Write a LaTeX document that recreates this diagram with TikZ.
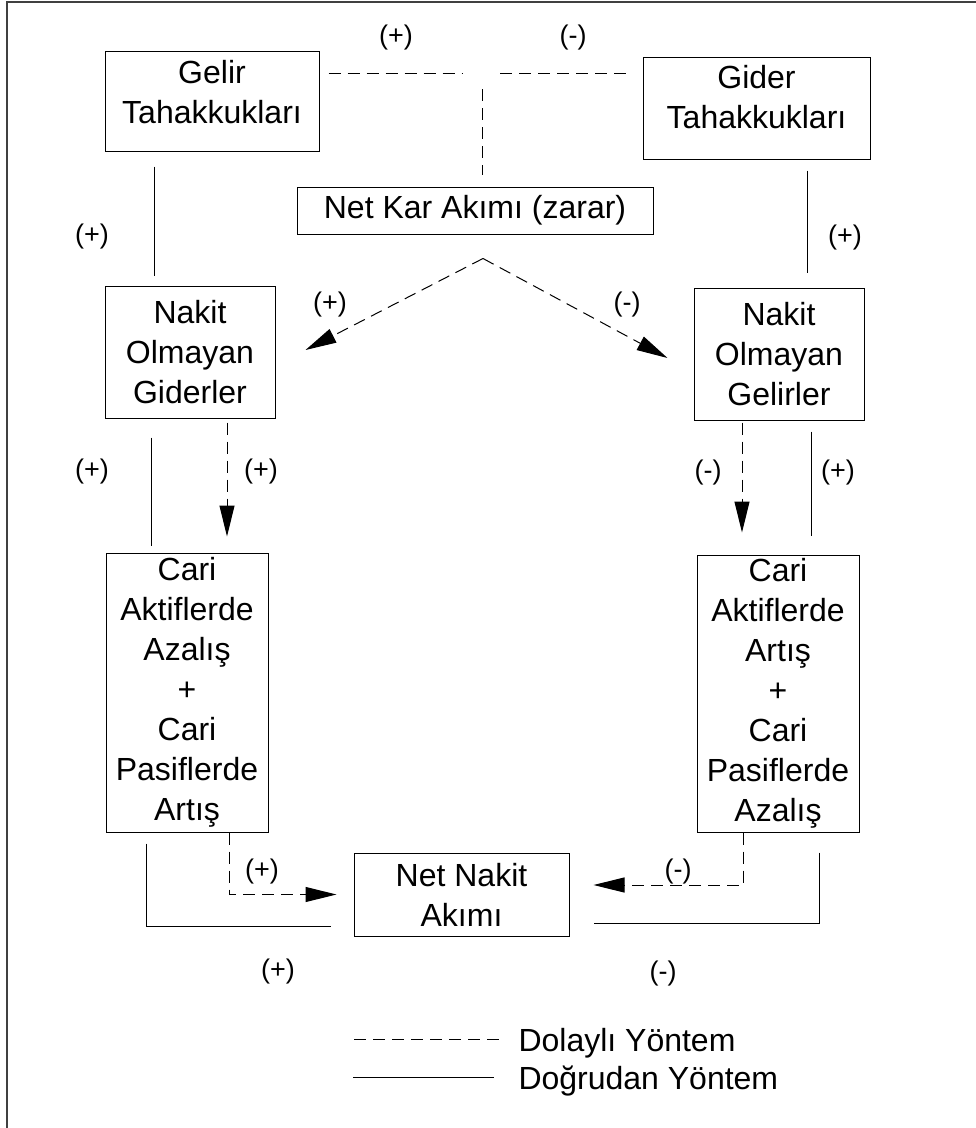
\documentclass[tikz,border=0pt]{standalone}
\usepackage{fontspec}
\setmainfont{Liberation Sans}
\usetikzlibrary{arrows.meta}
\begin{document}
\begin{tikzpicture}[x=1pt,y=-1pt,line width=1pt,
 kbox/.style={draw,inner sep=0pt,align=center,font=\fontsize{32}{40}\selectfont},
 klab/.style={inner sep=0pt,font=\fontsize{27}{30}\selectfont},
 kdash/.style={dash pattern=on 12pt off 7pt},
 ktip/.style={-{Triangle[length=31pt,width=15pt]}}]
\useasboundingbox (0,0) rectangle (976,1128);
\draw[line width=1.5pt,black!75](7,1128)--(7,2)--(976,2);
\node[kbox,minimum width=214,minimum height=100,text depth=18.5pt](gel) at (212,101){Gelir\\Tahakkukları};
\node[kbox,minimum width=227,minimum height=102,text depth=22.5pt](gid) at (756.5,108){Gider\\Tahakkukları};
\node[kbox,minimum width=356,minimum height=47](kar) at (475,210.5){Net Kar Akımı (zarar)};
\node[kbox,minimum width=170,minimum height=132](nog) at (190,352){Nakit\\Olmayan\\Giderler};
\node[kbox,minimum width=170,minimum height=132](nol) at (779,354){Nakit\\Olmayan\\Gelirler};
\node[kbox,minimum width=162,minimum height=279](cg) at (187,692.5){Cari\\Aktiflerde\\Azalış\\+\\Cari\\Pasiflerde\\Artış};
\node[kbox,minimum width=162,minimum height=277](cl) at (778,693.5){Cari\\Aktiflerde\\Artış\\+\\Cari\\Pasiflerde\\Azalış};
\node[kbox,minimum width=215,minimum height=83](nna) at (461.5,894.5){Net Nakit\\Akımı};
\foreach \kx/\ky/\kt [count=\ki] in {396/38/{(+)},573/38/{(-)},92/237/{(+)},845/238/{(+)},330/305/{(+)},627/305/{(-)},92/472/{(+)},261/472/{(+)},708/473/{(-)},838/473/{(+)},262/872/{(+)},678/872/{(-)},278/972/{(+)},663/973/{(-)}}{\node[klab](s\ki) at (\kx,\ky){\kt};}
\foreach \kc/\kx in {1/154,2/807,3/151,4/227,5/742,6/811,7/146,8/229,9/743,10/819}{\coordinate(v\kc) at (\kx,0);}
\coordinate(tj) at (482,73);
\coordinate(apex) at ([xshift=8,yshift=-24]kar.south);
\draw[kdash,shorten <=9,shorten >=20](gel.east |- tj)--(tj);
\draw[kdash,shorten <=17,shorten >=17](gid.west |- tj)--(tj);
\draw[kdash,shorten <=16,shorten >=12](tj)--(tj |- kar.north);
\draw[kdash,ktip](apex)--([xshift=30,yshift=2]nog.east);
\draw[kdash,ktip](apex)--([xshift=-26,yshift=-4]nol.west);
\draw[shorten <=15,shorten >=10](gel.south -| v1)--(nog.north -| v1);
\draw[shorten <=11,shorten >=15](gid.south -| v2)--(nol.north -| v2);
\draw[shorten <=19,shorten >=7](nog.south -| v3)--(cg.north -| v3);
\draw[kdash,ktip,shorten <=4,shorten >=16](nog.south -| v4)--(cg.north -| v4);
\draw[kdash,ktip,shorten <=2,shorten >=22](nol.south -| v5)--(cl.north -| v5);
\draw[shorten <=11,shorten >=19](nol.south -| v6)--(cl.north -| v6);
\draw[shorten <=11,shorten >=23](cg.south -| v7)|-([yshift=-31.5]nna.west);
\draw[kdash,ktip,shorten >=17](cg.south -| v8)|-(nna.west);
\draw[kdash,ktip,shorten >=24](cl.south -| v9)|-([yshift=9.5]nna.east);
\draw[shorten <=20,shorten >=24](cl.south -| v10)|-([yshift=-28.5]nna.east);
\node[anchor=base west,inner sep=0pt,font=\fontsize{32}{40}\selectfont](dol) at (518,1051){Dolaylı Yöntem};
\node[anchor=base west,inner sep=0pt,font=\fontsize{32}{40}\selectfont](dog) at (518,1089){Doğrudan Yöntem};
\coordinate(l1) at (354,1039);
\coordinate(l2) at (353,1077);
\draw[kdash,shorten >=15](l1)--(l1 -| dol.west);
\draw[shorten >=24](l2)--(l2 -| dog.west);
\end{tikzpicture}
\end{document}
